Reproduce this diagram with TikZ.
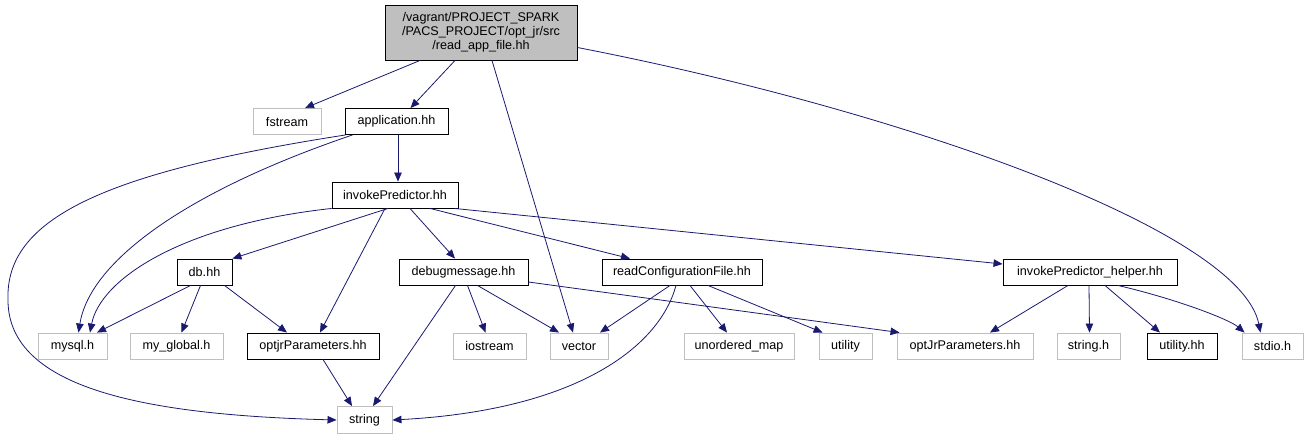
\documentclass[tikz,border=0pt]{standalone}
\usepackage{fontspec}
\setmainfont{Liberation Sans}
\usetikzlibrary{arrows.meta}
\definecolor{edgeblue}{HTML}{191970}
\definecolor{grayb}{HTML}{BFBFBF}
\tikzset{
  box/.style={draw=black, line width=0.9pt, fill=white, minimum height=26pt, inner sep=0pt, font=\fontsize{12.6}{14}\selectfont},
  gbox/.style={box, draw=grayb},
  topbox/.style={box, fill=grayb, minimum width=192pt, minimum height=55pt, align=center},
  edge/.style={draw=edgeblue, line width=0.8pt, -{Triangle[length=9pt,width=7.5pt]}},
}
\begin{document}
\begin{tikzpicture}[x=1pt,y=-1pt]
\useasboundingbox (0,0) rectangle (1309,440);
\node[topbox] (top) at (481,32.5) {/vagrant/PROJECT\_SPARK\\/PACS\_PROJECT/opt\_jr/src\\/read\_app\_file.hh};
\node[gbox, minimum width=68pt] (fstream) at (287,121.5) {fstream};
\node[box, minimum width=103pt] (app) at (396.5,121.5) {application.hh};
\node[box, minimum width=126pt] (ip) at (395,195) {invokePredictor.hh};
\node[box, minimum width=55pt] (db) at (204.5,272) {db.hh};
\node[box, minimum width=129pt] (dbg) at (463.5,272) {debugmessage.hh};
\node[box, minimum width=160pt] (rcf) at (682,272) {readConfigurationFile.hh};
\node[box, minimum width=174pt] (helper) at (1090,272) {invokePredictor\_helper.hh};
\node[gbox, minimum width=69pt] (mysql) at (72.5,346) {mysql.h};
\node[gbox, minimum width=93pt] (myglobal) at (176.5,346) {my\_global.h};
\node[box, minimum width=132pt] (optjr) at (313,346) {optjrParameters.hh};
\node[gbox, minimum width=73pt] (iostream) at (489.5,346) {iostream};
\node[gbox, minimum width=58pt] (vector) at (579,346) {vector};
\node[gbox, minimum width=110pt] (umap) at (739,346) {unordered\_map};
\node[gbox, minimum width=53pt] (utility) at (845.5,346) {utility};
\node[gbox, minimum width=136pt] (optJr) at (965,346) {optJrParameters.hh};
\node[gbox, minimum width=63pt] (stringh) at (1088.5,346) {string.h};
\node[box, minimum width=70pt] (utilityhh) at (1182,346) {utility.hh};
\node[gbox, minimum width=61pt] (stdio) at (1272.5,346) {stdio.h};
\node[gbox, minimum width=55pt, minimum height=27pt] (string) at (364.5,420) {string};

% from top
\draw[edge] ([xshift=-61pt]top.south) -- ([xshift=18pt]fstream.north);
\draw[edge] ([xshift=-26pt]top.south) -- ([xshift=14pt]app.north);
\draw[edge] ([xshift=11pt]top.south) -- ([xshift=-6pt]vector.north);
\draw[edge] ([yshift=-15pt]top.east) .. controls (900,110) and (1240,230) .. ([xshift=-12pt]stdio.north);
% from application
\draw[edge] ([xshift=-51pt]app.south) .. controls (100,173) and (5,220) .. (8,300) .. controls (8,390) and (150,415) .. (string.west);
\draw[edge] ([xshift=-44pt]app.south) .. controls (190,190) and (90,260) .. ([xshift=6pt]mysql.north);
\draw[edge] ([xshift=1.5pt]app.south) -- ([xshift=3pt]ip.north);
% from invokePredictor
\draw[edge] (ip.south west) .. controls (180,225) and (100,280) .. ([xshift=17.5pt]mysql.north);
\draw[edge] ([xshift=-7pt]ip.south) -- (db.north east);
\draw[edge] ([xshift=-10pt]ip.south) -- ([xshift=7pt]optjr.north);
\draw[edge] ([xshift=15pt]ip.south) -- ([xshift=-8.5pt]dbg.north);
\draw[edge] ([xshift=35pt]ip.south) -- ([xshift=-52pt]rcf.north);
\draw[edge] ([xshift=-4pt]ip.south east) -- ([yshift=8pt]helper.west);
% from db
\draw[edge] ([xshift=-14pt]db.south) -- ([xshift=24.5pt]mysql.north);
\draw[edge] ([xshift=-4pt]db.south) -- ([xshift=5pt]myglobal.north);
\draw[edge] ([xshift=20pt]db.south) -- ([xshift=-26pt]optjr.north);
% from optjr
\draw[edge] ([xshift=10pt]optjr.south) -- ([xshift=-12.5pt]string.north);
% from debugmessage
\draw[edge] ([xshift=-8pt]dbg.south) -- ([xshift=8.5pt]string.north);
\draw[edge] ([xshift=4pt]dbg.south) -- ([xshift=-4pt]iostream.north);
\draw[edge] ([xshift=14pt]dbg.south) -- ([xshift=-20pt]vector.north);
\draw[edge] ([yshift=-10pt]dbg.east) -- ([xshift=3pt]optJr.north west);
% from readConfigurationFile
\draw[edge] ([xshift=-12pt]rcf.south) -- ([xshift=21pt]vector.north);
\draw[edge] ([xshift=-6pt]rcf.south) .. controls (660,345) and (580,410) .. (string.east);
\draw[edge] ([xshift=8pt]rcf.south) -- ([xshift=-12pt]umap.north);
\draw[edge] ([xshift=26pt]rcf.south) -- ([xshift=4pt]utility.north west);
% from helper
\draw[edge] ([xshift=-22pt]helper.south) -- ([xshift=25pt]optJr.north);
\draw[edge] ([xshift=-1pt]helper.south) -- ([xshift=1pt]stringh.north);
\draw[edge] ([xshift=15pt]helper.south) -- ([xshift=-22pt]utilityhh.north);
\draw[edge] ([xshift=28pt]helper.south) .. controls (1180,300) and (1230,320) .. ([xshift=3pt]stdio.north west);
\end{tikzpicture}
\end{document}
